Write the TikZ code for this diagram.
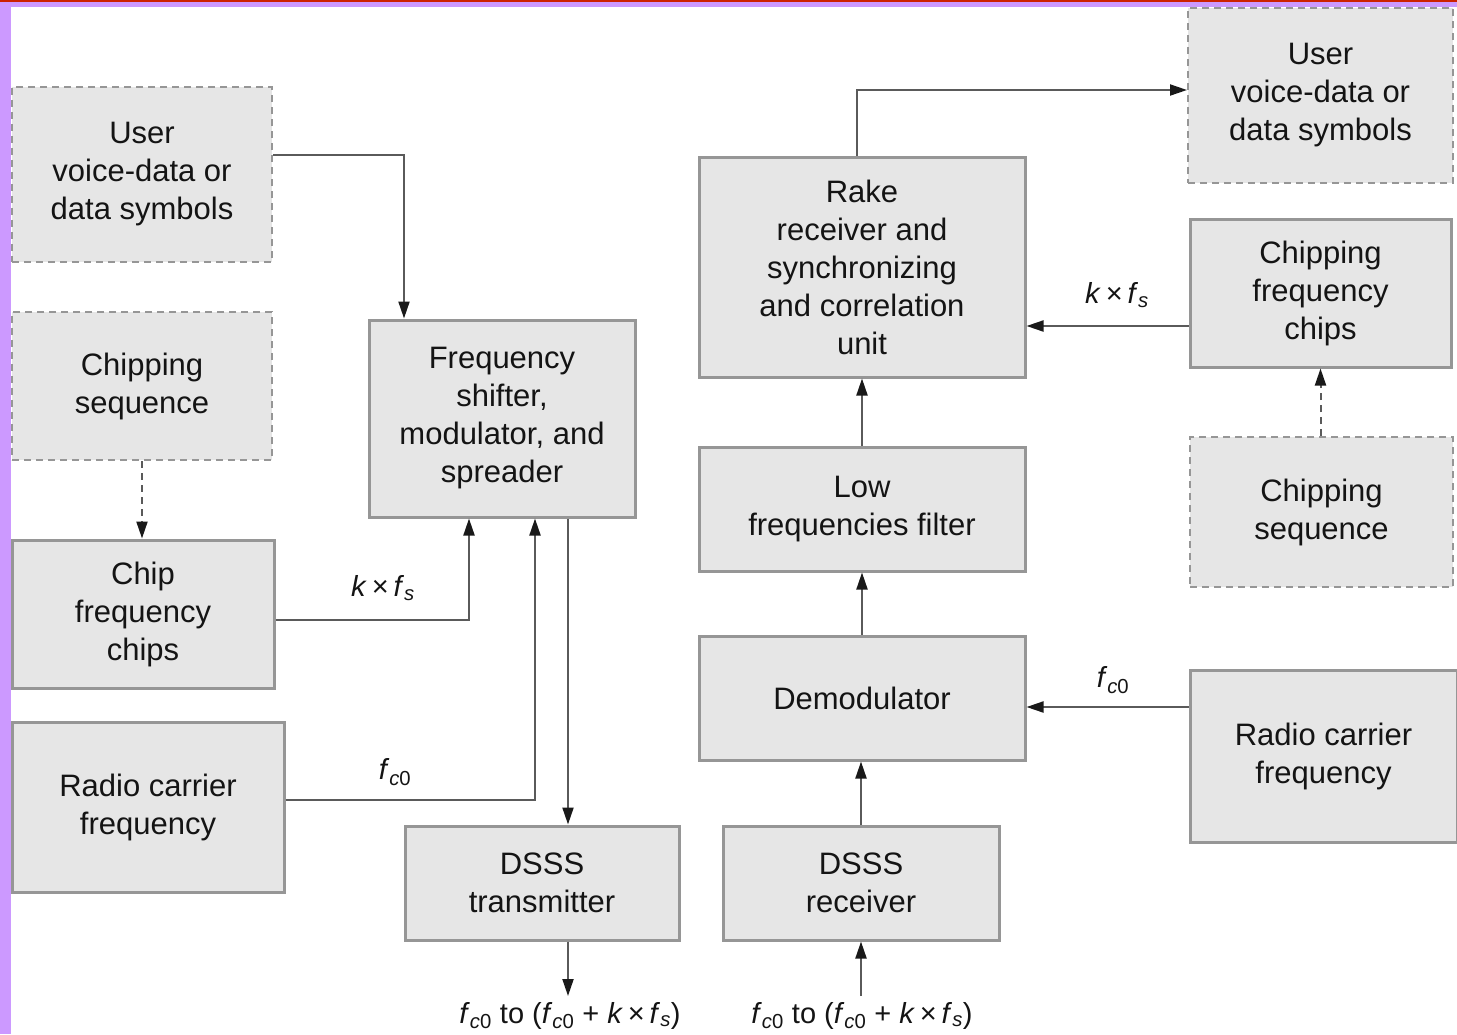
\documentclass[tikz,border=0pt]{standalone}
\usepackage{fontspec}
\setmainfont{Liberation Sans}
\usetikzlibrary{arrows.meta,calc}
\definecolor{boxfill}{HTML}{E6E6E6}
\definecolor{boxline}{HTML}{969696}
\definecolor{wire}{HTML}{5A5A5A}
\definecolor{txt}{HTML}{141414}
\definecolor{lav}{HTML}{CC99FF}
\definecolor{topred}{HTML}{CC2200}
\newcommand{\fco}{\textit{f}\textsubscript{\textit{c}0}}
\newcommand{\kfs}{\textit{k}\,×\,\textit{f}\textsubscript{\textit{s}}}
\begin{document}
\begin{tikzpicture}[x=1pt,y=-1pt,
  blk/.style={draw=boxline,fill=boxfill,line width=3pt,align=center,inner sep=0pt,
    text=txt,font=\fontsize{31}{38}\selectfont},
  dblk/.style={blk,line width=2pt,dash pattern=on 7pt off 5pt},
  arr/.style={draw=wire,line width=2pt,-{Triangle[length=17pt,width=11pt,color=black!90]}},
  darr/.style={arr,dash pattern=on 7pt off 5pt},
  lbl/.style={text=txt,inner sep=0pt,font=\fontsize{29}{34}\selectfont}]
\useasboundingbox (0,0) rectangle (1457,1034);
\fill[white] (0,0) rectangle (1457,1034);
\fill[lav] (0,0) rectangle (1457,7);
\fill[lav] (0,0) rectangle (11,1034);
\fill[topred] (0,0) rectangle (1457,2);

% left column
\node[dblk,minimum width=260pt,minimum height=175pt] (uL) at (142,174.5) {User\\voice-data or\\data symbols};
\node[dblk,minimum width=260pt,minimum height=148pt] (csL) at (142,386) {Chipping\\sequence};
\node[blk,minimum width=262pt,minimum height=148pt] (cfL) at (143,614) {Chip\\frequency\\chips};
\node[blk,minimum width=272pt,minimum height=170pt] (rcL) at (148,807) {Radio carrier\\frequency};
\node[blk,minimum width=266pt,minimum height=197pt] (fs) at (502,418.5) {Frequency\\shifter,\\modulator, and\\spreader};
\node[blk,minimum width=274pt,minimum height=114pt] (tx) at (542,883) {DSSS\\transmitter};

% middle column
\node[blk,minimum width=276pt,minimum height=114pt] (rx) at (861,883) {DSSS\\receiver};
\node[blk,minimum width=326pt,minimum height=124pt] (dm) at (862,698) {Demodulator};
\node[blk,minimum width=326pt,minimum height=124pt] (lf) at (862,509) {Low\\frequencies filter};
\node[blk,minimum width=326pt,minimum height=220pt] (rk) at (862,267) {Rake\\receiver and\\synchronizing\\and correlation\\unit};

% right column
\node[dblk,minimum width=265pt,minimum height=175pt] (uR) at (1320.5,95.5) {User\\voice-data or\\data symbols};
\node[blk,minimum width=261pt,minimum height=148pt] (cfR) at (1320.5,293) {Chipping\\frequency\\chips};
\node[dblk,minimum width=263pt,minimum height=150pt] (csR) at (1321.5,512) {Chipping\\sequence};
\node[blk,minimum width=267pt,minimum height=172pt] (rcR) at (1323.5,756) {Radio carrier\\frequency};

% labels
\node[lbl] (l1) at (383,588) {\kfs};
\node[lbl] (l2) at (395,772) {\fco};
\node[lbl] (l3) at (1117,295) {\kfs};
\node[lbl] (l4) at (1113,680) {\fco};
\node[lbl,anchor=north] (lblT) at (570,1002) {\fco{} to (\fco{} + \kfs)};
\node[lbl,anchor=north] (lblR) at (862,1002) {\fco{} to (\fco{} + \kfs)};

% transmitter side connectors
\draw[arr] ([yshift=19.5pt]uL.east) -| ([xshift=-98pt]fs.north);
\draw[darr] (csL.south) -- (csL.south |- cfL.north);
\draw[arr] ([yshift=-6pt]cfL.east) -| ([xshift=-33pt]fs.south);
\draw[arr] ([yshift=7pt]rcL.east) -| ([xshift=33pt]fs.south);
\coordinate (fsout) at ([xshift=66pt]fs.south);
\draw[arr] (fsout) -- (fsout |- tx.north);
\coordinate (txout) at ([xshift=26pt]tx.south);
\draw[arr] (txout) -- ([yshift=6pt]txout |- lblT.north);

% receiver side connectors
\draw[arr] ([yshift=6pt]lblR.north -| rx.south) -- (rx.south);
\draw[arr] (rx.north) -- (rx.north |- dm.south);
\draw[arr] (dm.north) -- (lf.south);
\draw[arr] (lf.north) -- (rk.south);
\draw[arr] ([xshift=-5pt]rk.north) |- ([yshift=5.5pt]uR.west);
\coordinate (cfRin) at ([yshift=-33pt]cfR.west);
\draw[arr] (cfRin) -- (cfRin -| rk.east);
\coordinate (csRout) at ([xshift=-1pt]csR.north);
\draw[darr] (csRout) -- (csRout |- cfR.south);
\coordinate (rcRin) at ([yshift=49pt]rcR.west);
\draw[arr] (rcRin) -- (rcRin -| dm.east);
\end{tikzpicture}
\end{document}
